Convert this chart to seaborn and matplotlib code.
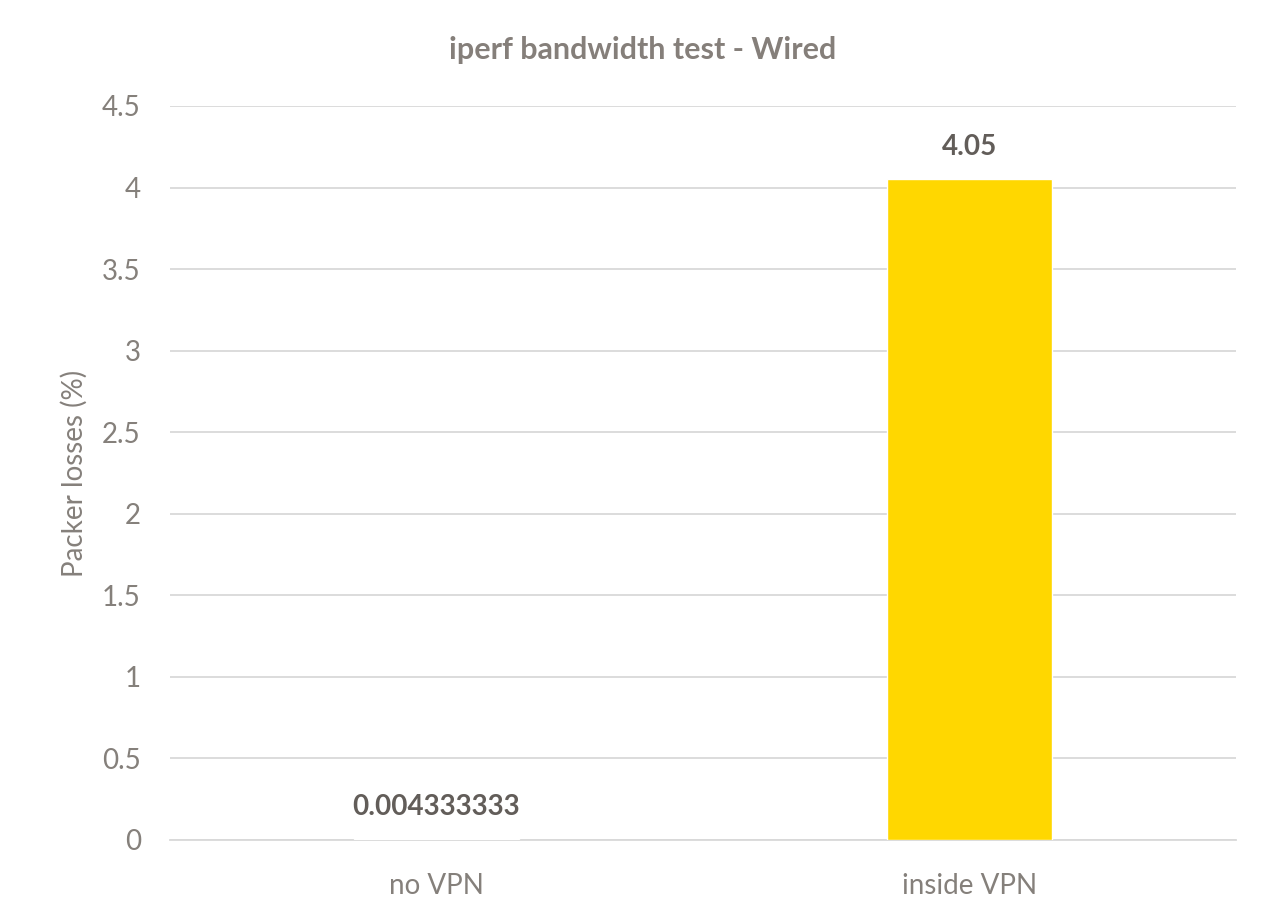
import matplotlib
matplotlib.use("Agg")
import matplotlib.pyplot as plt
import seaborn as sns
import pandas as pd

categories = ["no VPN", "inside VPN"]
values = [0.004333333, 4.05]
value_labels = ["0.004333333", "4.05"]
yticks = [0, 0.5, 1, 1.5, 2, 2.5, 3, 3.5, 4, 4.5]

sns.set_theme(style="white")
plt.rcParams["font.family"] = ["Lato", "DejaVu Sans"]

df = pd.DataFrame({"cat": categories, "val": values})

fig = plt.figure(figsize=(12.85, 9), dpi=100)
ax = fig.add_axes([170/1285, 1 - 840/900, (1236-170)/1285, (840-106)/900])

sns.barplot(data=df, x="cat", y="val", color="#FFD700", width=0.31, ax=ax,
            saturation=1, zorder=3)

ax.set_ylim(0, 4.5)
ax.set_yticks(yticks)
ax.set_yticklabels([f"{t:g}" for t in yticks])
ax.set_xlim(-0.5, 1.5)
ax.grid(axis="y", color="#D9D9D9", linewidth=1.3, zorder=0)
ax.grid(axis="x", visible=False)
for s in ["top", "right", "left"]:
    ax.spines[s].set_visible(False)
ax.spines["bottom"].set_color("#D9D9D9")
ax.spines["bottom"].set_linewidth(1.3)
ax.tick_params(axis="y", length=0, labelsize=20, labelcolor="#85807B", pad=21)
ax.tick_params(axis="x", length=0, labelsize=20, labelcolor="#85807B", pad=24)
ax.set_xlabel("")
ax.set_ylabel("Packer losses (%)", fontsize=20, color="#85807B", labelpad=10)

for i, (v, lab) in enumerate(zip(values, value_labels)):
    ax.annotate(lab, (i, v), xytext=(0, 14), textcoords="offset points",
                ha="center", va="bottom", fontsize=20, fontweight="bold",
                color="#625D59")

fig.text(0.5, 1 - 50/900, "iperf bandwidth test - Wired", ha="center", va="center",
         fontsize=22, fontweight="bold", color="#857F7A")

fig.savefig("out.png", dpi=100, facecolor="white")
